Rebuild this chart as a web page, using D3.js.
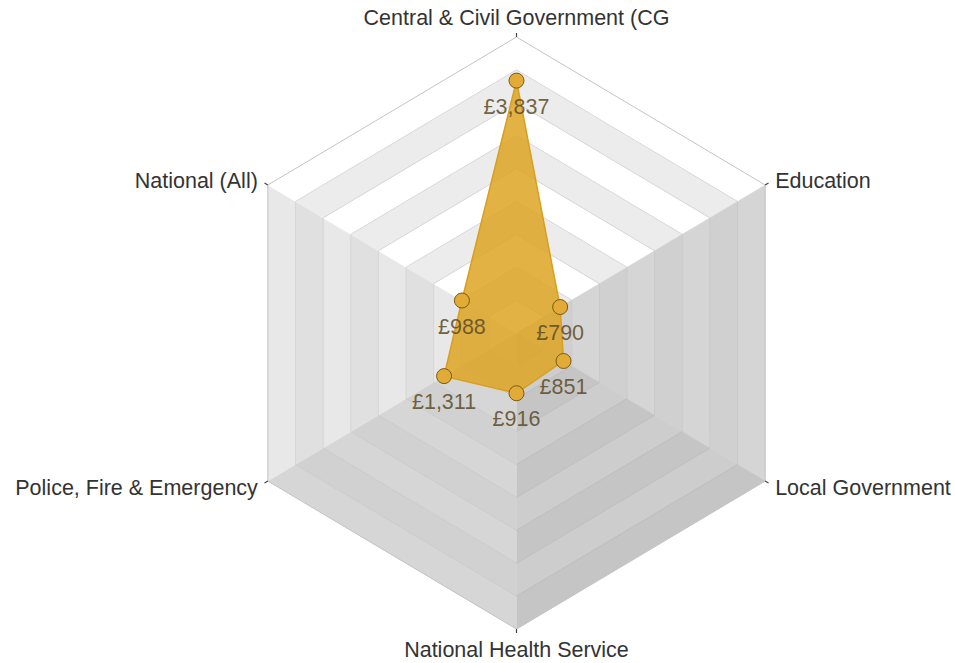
<!DOCTYPE html>
<html>
<head>
<meta charset="utf-8">
<script src="https://cdn.jsdelivr.net/npm/d3@7"></script>
<style>
  body { margin: 0; background: #fff; }
  text { font-family: "Liberation Sans", Arial, sans-serif; }
</style>
</head>
<body>
<svg id="chart" width="955" height="663"></svg>
<script>
var categories = ["Central & Civil Government (CG", "Education", "Local Government",
  "National Health Service", "Police, Fire & Emergency", "National (All)"];
var values = [3837, 790, 851, 916, 1311, 988];
var ringTicks = [0, 500, 1000, 1500, 2000, 2500, 3000, 3500, 4000, 4500];

// shading per sector (sector i runs from axis i to axis i+1, clockwise)
var sectorFill = [
  ["#ffffff", "#ececec"],
  ["#d5d5d5", "#d0d0d0"],
  ["#c5c5c5", "#cdcdcd"],
  ["#d6d6d6", "#d1d1d1"],
  ["#e8e8e8", "#e0e0e0"],
  ["#ffffff", "#ececec"]
];
var sectorLine = ["#d6d6d6", "#c9c9c9", "#bdbdbd", "#cbcbcb", "#d6d6d6", "#d6d6d6"];

var svg = d3.select("#chart");
var cx = 516.5, cy = 333, R = 296, xs = 0.97;

var r = d3.scaleLinear().domain([0, 4500]).range([0, R]);
var angle = d3.scaleLinear().domain([0, categories.length]).range([0, 2 * Math.PI]);

function pt(i, rad) {
  var a = angle(i);
  return [cx + rad * Math.sin(a) * xs, cy - rad * Math.cos(a)];
}

var n = categories.length;
var bands = [];
for (var i = 0; i < n; i++) {
  for (var k = 0; k < ringTicks.length - 1; k++) {
    bands.push({sector: i, lo: ringTicks[k], hi: ringTicks[k + 1], k: k});
  }
}
var last = ringTicks.length - 2;

svg.append("g").selectAll("polygon")
  .data(bands)
  .enter().append("polygon")
  .attr("points", function(d) {
    var j = (d.sector + 1) % n;
    return [pt(d.sector, r(d.hi)), pt(j, r(d.hi)), pt(j, r(d.lo)), pt(d.sector, r(d.lo))]
      .map(function(p) { return p.join(","); }).join(" ");
  })
  .style("fill", function(d) { return sectorFill[d.sector][(last - d.k) % 2]; })
  .style("stroke", function(d) { return sectorFill[d.sector][(last - d.k) % 2]; })
  .style("stroke-width", 0.5);

// ring lines inside each sector
var ringLines = [];
for (var i = 0; i < n; i++) {
  ringTicks.slice(1).forEach(function(t) { ringLines.push({sector: i, v: t}); });
}
svg.append("g").selectAll("line")
  .data(ringLines)
  .enter().append("line")
  .attr("x1", function(d) { return pt(d.sector, r(d.v))[0]; })
  .attr("y1", function(d) { return pt(d.sector, r(d.v))[1]; })
  .attr("x2", function(d) { return pt((d.sector + 1) % n, r(d.v))[0]; })
  .attr("y2", function(d) { return pt((d.sector + 1) % n, r(d.v))[1]; })
  .style("stroke", function(d) { return d.v == 4500 ? "#c4c4c4" : sectorLine[d.sector]; })
  .style("stroke-width", 1);

// little ticks at the outer vertices
svg.append("g").selectAll("line")
  .data(categories)
  .enter().append("line")
  .attr("x1", function(d, i) { return pt(i, R)[0]; })
  .attr("y1", function(d, i) { return pt(i, R)[1]; })
  .attr("x2", function(d, i) { return pt(i, R + 4)[0]; })
  .attr("y2", function(d, i) { return pt(i, R + 4)[1]; })
  .style("stroke", "#444")
  .style("stroke-width", 1.2);

// axis labels
var labelPos = [
  {dx: 0, dy: -12, anchor: "middle"},
  {dx: 10, dy: 3, anchor: "start"},
  {dx: 10, dy: 14, anchor: "start"},
  {dx: 0, dy: 28, anchor: "middle"},
  {dx: -10, dy: 14, anchor: "end"},
  {dx: -10, dy: 3, anchor: "end"}
];
svg.append("g").selectAll("text")
  .data(categories)
  .enter().append("text")
  .attr("x", function(d, i) { return pt(i, R)[0] + labelPos[i].dx; })
  .attr("y", function(d, i) { return pt(i, R)[1] + labelPos[i].dy; })
  .attr("text-anchor", function(d, i) { return labelPos[i].anchor; })
  .style("font-size", "21.5px")
  .style("fill", "#333")
  .text(function(d) { return d; });

// series
var pts = values.map(function(v, i) { return pt(i, r(v)); });
svg.append("path")
  .attr("d", d3.line().curve(d3.curveLinearClosed)(pts))
  .style("fill", "rgb(221,164,36)")
  .style("fill-opacity", 0.85)
  .style("stroke", "#d99f1c")
  .style("stroke-width", 1.5);

svg.append("g").selectAll("circle")
  .data(pts)
  .enter().append("circle")
  .attr("cx", function(d) { return d[0]; })
  .attr("cy", function(d) { return d[1]; })
  .attr("r", 7.5)
  .style("fill", "#e2ab35")
  .style("stroke", "#7a5a12")
  .style("stroke-width", 1);

var fmt = d3.format(",");
svg.append("g").selectAll("text")
  .data(values)
  .enter().append("text")
  .attr("x", function(d, i) { return pts[i][0]; })
  .attr("y", function(d, i) { return pts[i][1] + 33; })
  .attr("text-anchor", "middle")
  .style("font-size", "21.5px")
  .style("fill", "#5b4a26")
  .style("fill-opacity", 0.85)
  .text(function(d) { return "£" + fmt(d); });
</script>
</body>
</html>
